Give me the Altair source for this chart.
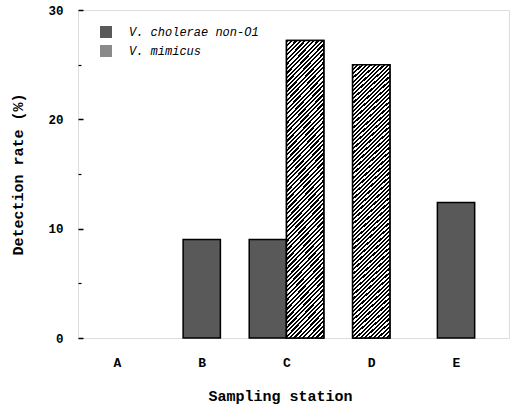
import json
import altair as alt
import pandas as pd

# ---- data ----
stations = ["A", "B", "C", "D", "E"]
series = ["V. cholerae non-O1", "V. mimicus"]
cholerae = [0.0, 9.0, 9.0, 0.0, 12.4]
mimicus = [0.0, 0.0, 27.2, 25.0, 0.0]

# ---- build table: non-zero bars, centred on their station ----
BAR_W = 0.44
rows = []
for i, st in enumerate(stations):
    vals = [cholerae[i], mimicus[i]]
    nz = [k for k, v in enumerate(vals) if v > 0]
    for slot, k in enumerate(nz):
        start = i - len(nz) * BAR_W / 2 + slot * BAR_W
        rows.append(dict(station=st, series=series[k], value=vals[k],
                         x0=start, x1=start + BAR_W))
df = pd.DataFrame(rows)

# ---- diagonal hatching as a hard-stop linear gradient ----
r = 37 / 286
kk = (1 + r) / (1 + r * r)
N = 74
stops = []
for j in range(N):
    a, b, c = j / N, (j + 0.5) / N, (j + 1) / N
    stops += [{"offset": round(a, 5), "color": "black"},
              {"offset": round(b, 5), "color": "black"},
              {"offset": round(b, 5), "color": "white"},
              {"offset": round(c, 5), "color": "white"}]
hatch_fill = {"gradient": "linear", "x1": 0, "y1": 0,
              "x2": round(kk * r, 5), "y2": round(kk, 5), "stops": stops}

FONT = "Liberation Mono"

x_enc = alt.X("x0:Q",
              scale=alt.Scale(domain=[-0.46, 4.625], nice=False, zero=False),
              axis=alt.Axis(values=list(range(len(stations))),
                            labelExpr=json.dumps(stations) + "[datum.value]",
                            title="Sampling station", ticks=False, domain=False,
                            grid=False, labelFont=FONT, labelFontWeight="bold",
                            labelFontSize=13, labelPadding=18, labelColor="black",
                            titleFont=FONT, titleFontWeight="bold", titleFontSize=15,
                            titlePadding=19, titleColor="black", titleX=202))
x2_enc = alt.X2("x1:Q")
y2_enc = alt.datum(0)
yscale = alt.Scale(domain=[0, 30], nice=False)

bars = alt.Chart(df).mark_bar(stroke="black", strokeWidth=1.5).encode(
    x=x_enc, x2=x2_enc,
    y=alt.Y("value:Q", scale=yscale,
            axis=alt.Axis(values=[0, 10, 20, 30], orient="left", ticks=False,
                          domain=False, grid=False, labelFont=FONT,
                          labelFontSize=12.5, labelFontWeight=600,
                          labelPadding=15, labelColor="black",
                          title="Detection rate (%)", titleFont=FONT,
                          titleFontWeight="bold", titleFontSize=15,
                          titlePadding=22, titleColor="black")),
    y2=y2_enc,
    fill=alt.Fill("series:N",
                  scale=alt.Scale(domain=series, range=["#595959", "#8a8a8a"]),
                  legend=alt.Legend(title=None, orient="none", legendX=22,
                                    legendY=16, symbolType="square",
                                    symbolSize=144, symbolStrokeWidth=0,
                                    labelFont=FONT, labelFontSize=12,
                                    labelFontStyle="italic", labelColor="black",
                                    labelOffset=17, rowPadding=7)),
)

hatch = alt.Chart(df).transform_filter(
    alt.datum.series == series[1]
).mark_bar(fill=hatch_fill, stroke="black", strokeWidth=1.5).encode(
    x=x_enc, x2=x2_enc,
    y=alt.Y("value:Q", scale=yscale,
            axis=alt.Axis(values=[0, 10, 20, 30], orient="left", offset=-5,
                          tickSize=5, tickWidth=1.5, tickColor="black",
                          labels=False, domain=False, grid=False, title=None)),
    y2=y2_enc,
)

minor = alt.Chart(df).mark_point(opacity=0).encode(
    x=x_enc,
    y=alt.Y("value:Q", scale=yscale,
            axis=alt.Axis(values=[5, 15, 25], orient="left", offset=-3,
                          tickSize=3, tickWidth=1.2, tickColor="black",
                          labels=False, domain=False, grid=False, title=None)),
)

chart = alt.layer(bars, hatch, minor).resolve_axis(y="independent").properties(
    width=431, height=328, autosize="none",
    padding={"left": 78, "top": 10, "right": 1, "bottom": 67},
).configure_view(stroke="black", strokeWidth=1.5).configure(background="white")

chart.save("out.html", embed_options={"renderer": "svg", "actions": False})
